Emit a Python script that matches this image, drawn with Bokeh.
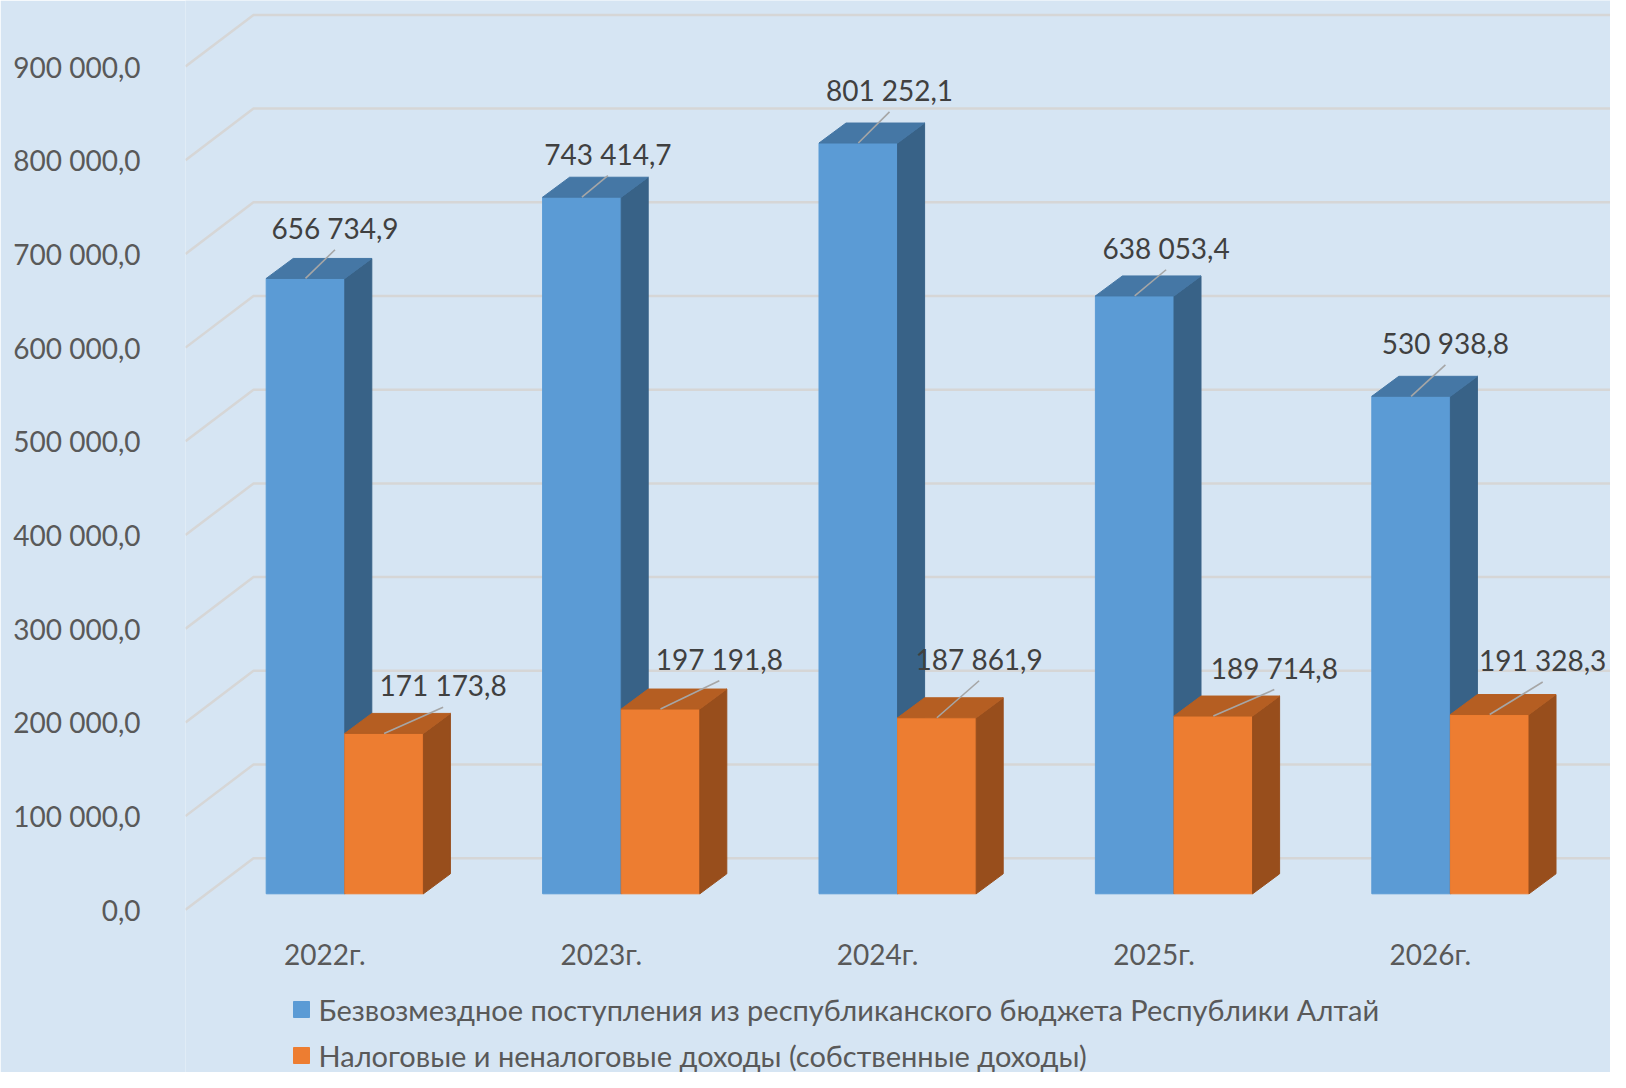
from bokeh.plotting import figure
from bokeh.models import Range1d, FixedTicker
from bokeh.core.properties import value
from bokeh.embed import file_html
from bokeh.resources import INLINE

# ---------------- data ----------------
categories = ["2022г.", "2023г.", "2024г.", "2025г.", "2026г."]
grant_values = [656734.9, 743414.7, 801252.1, 638053.4, 530938.8]
own_values = [171173.8, 197191.8, 187861.9, 189714.8, 191328.3]
series_names = [
    "Безвозмездное поступления из республиканского бюджета Республики Алтай",
    "Налоговые и неналоговые доходы (собственные доходы)",
]
y_ticks = [0, 100000, 200000, 300000, 400000, 500000, 600000, 700000, 800000, 900000]


def fmt(v):
    return f"{v:,.1f}".replace(",", " ").replace(".", ",")


# ---------------- layout / style ----------------
FONT = "Lato"
BG = "#D6E5F3"
GRID = "#D6D6D6"
BLUE = ("#5B9BD5", "#386287", "#4577A5")      # front, side, top
ORANGE = ("#ED7D31", "#984E1C", "#B55E22")

W, H = 1610, 1072
PX_Y = 93.7 / 100000.0          # pixels per value unit
UY = 1.0 / PX_Y                 # value units per pixel
GROUP_PX = 276.4                # pixels per category step
UX = 1.0 / GROUP_PX
ORIGIN_X = 344.3                # x of first group centre (front)
ORIGIN_Y = 909.3                # y of front zero line
FRAME_LEFT = 185


def sx(px):
    return (px - ORIGIN_X) * UX


def sy(py):
    return (ORIGIN_Y - py) * UY


x_start, x_end = sx(FRAME_LEFT), sx(W)
y_start, y_end = sy(H), sy(0)

WALL_DX, WALL_DY = 68 * UX, 51.6 * UY
BAR_W = 78.6 * UX
BASE = 16 * UY
DDX, DDY = 27 * UX, 20 * UY

blue_lbl_dx = [29.5, 26.0, 31.2, 31.4, 34.3]
blue_lbl_up = [50.7, 43.7, 53.1, 48.2, 53.5]
orng_lbl_dx = [59.0, 58.8, 42.2, 61.0, 53.0]
orng_lbl_up = [48.2, 50.3, 59.0, 48.5, 54.5]

p = figure(
    width=W, height=H,
    x_range=Range1d(x_start, x_end), y_range=Range1d(y_start, y_end),
    x_axis_location=None, toolbar_location=None, output_backend="svg",
    min_border_left=FRAME_LEFT, min_border_right=0, min_border_top=0, min_border_bottom=0,
)
p.background_fill_color = BG
p.border_fill_color = BG
p.outline_line_color = None
p.xgrid.visible = False
p.ygrid.visible = False

# y axis (labels at the front edge of the walls)
ax = p.yaxis[0]
ax.ticker = FixedTicker(ticks=y_ticks)
ax.major_label_overrides = {v: fmt(v) for v in y_ticks}
ax.axis_line_color = None
ax.major_tick_line_color = None
ax.minor_tick_line_color = None
ax.major_label_standoff = 39
ax.major_label_text_font = FONT
ax.major_label_text_font_size = "28px"
ax.major_label_text_color = "#595959"

# gridlines: side wall diagonal + back wall horizontal
gx = [[x_start, x_start + WALL_DX, x_end] for _ in y_ticks]
gy = [[v, v + WALL_DY, v + WALL_DY] for v in y_ticks]
p.multi_line(gx, gy, line_color=GRID, line_width=2.5)


def draw_bars(lefts, vals, cols):
    rights = [l + BAR_W for l in lefts]
    tops = [BASE + v for v in vals]
    p.quad(left=lefts, right=rights, bottom=[BASE] * len(vals), top=tops,
           fill_color=cols[0], line_color=cols[0], line_width=1)
    side_x = [[r, r + DDX, r + DDX, r] for r in rights]
    side_y = [[BASE, BASE + DDY, t + DDY, t] for t in tops]
    p.patches(side_x, side_y, fill_color=cols[1], line_color=cols[1], line_width=1)
    top_x = [[l, l + DDX, r + DDX, r] for l, r in zip(lefts, rights)]
    top_y = [[t, t + DDY, t + DDY, t] for t in tops]
    p.patches(top_x, top_y, fill_color=cols[2], line_color=cols[2], line_width=1)
    return rights, tops


def draw_labels(lefts, rights, tops, vals, dxs, ups):
    cx = [(l + r) / 2 for l, r in zip(lefts, rights)]
    lx = [c + d * UX for c, d in zip(cx, dxs)]
    ly = [t + u * UY for t, u in zip(tops, ups)]
    ey = [t + (u - 22) * UY for t, u in zip(tops, ups)]
    p.segment(x0=cx, y0=tops, x1=lx, y1=ey, line_color="#A6A6A6", line_width=1.6)
    p.text(x=lx, y=ly, text=[fmt(v) for v in vals], text_font=value(FONT),
           text_font_size="28px", text_color="#404040",
           text_align="center", text_baseline="middle")


idx = list(range(len(categories)))
blue_left = [i - BAR_W for i in idx]
orng_left = [float(i) for i in idx]

b_r, b_t = draw_bars(blue_left, grant_values, BLUE)
o_r, o_t = draw_bars(orng_left, own_values, ORANGE)
draw_labels(blue_left, b_r, b_t, grant_values, blue_lbl_dx, blue_lbl_up)
draw_labels(orng_left, o_r, o_t, own_values, orng_lbl_dx, orng_lbl_up)

# category labels
p.text(x=[i - 20 * UX for i in idx], y=[sy(953)] * len(idx), text=categories,
       text_font=value(FONT), text_font_size="28px", text_color="#595959",
       text_align="center", text_baseline="middle")

# legend
leg_y = [sy(1009), sy(1055)]
p.scatter(x=[sx(301)] * 2, y=leg_y, marker="square", size=16,
          fill_color=[BLUE[0], ORANGE[0]], line_color=[BLUE[0], ORANGE[0]])
p.text(x=[sx(318)] * 2, y=leg_y, text=series_names, text_font=value(FONT),
       text_font_size="29px", text_color="#595959",
       text_align="left", text_baseline="middle")

open("out.html", "w").write(file_html(p, INLINE))
